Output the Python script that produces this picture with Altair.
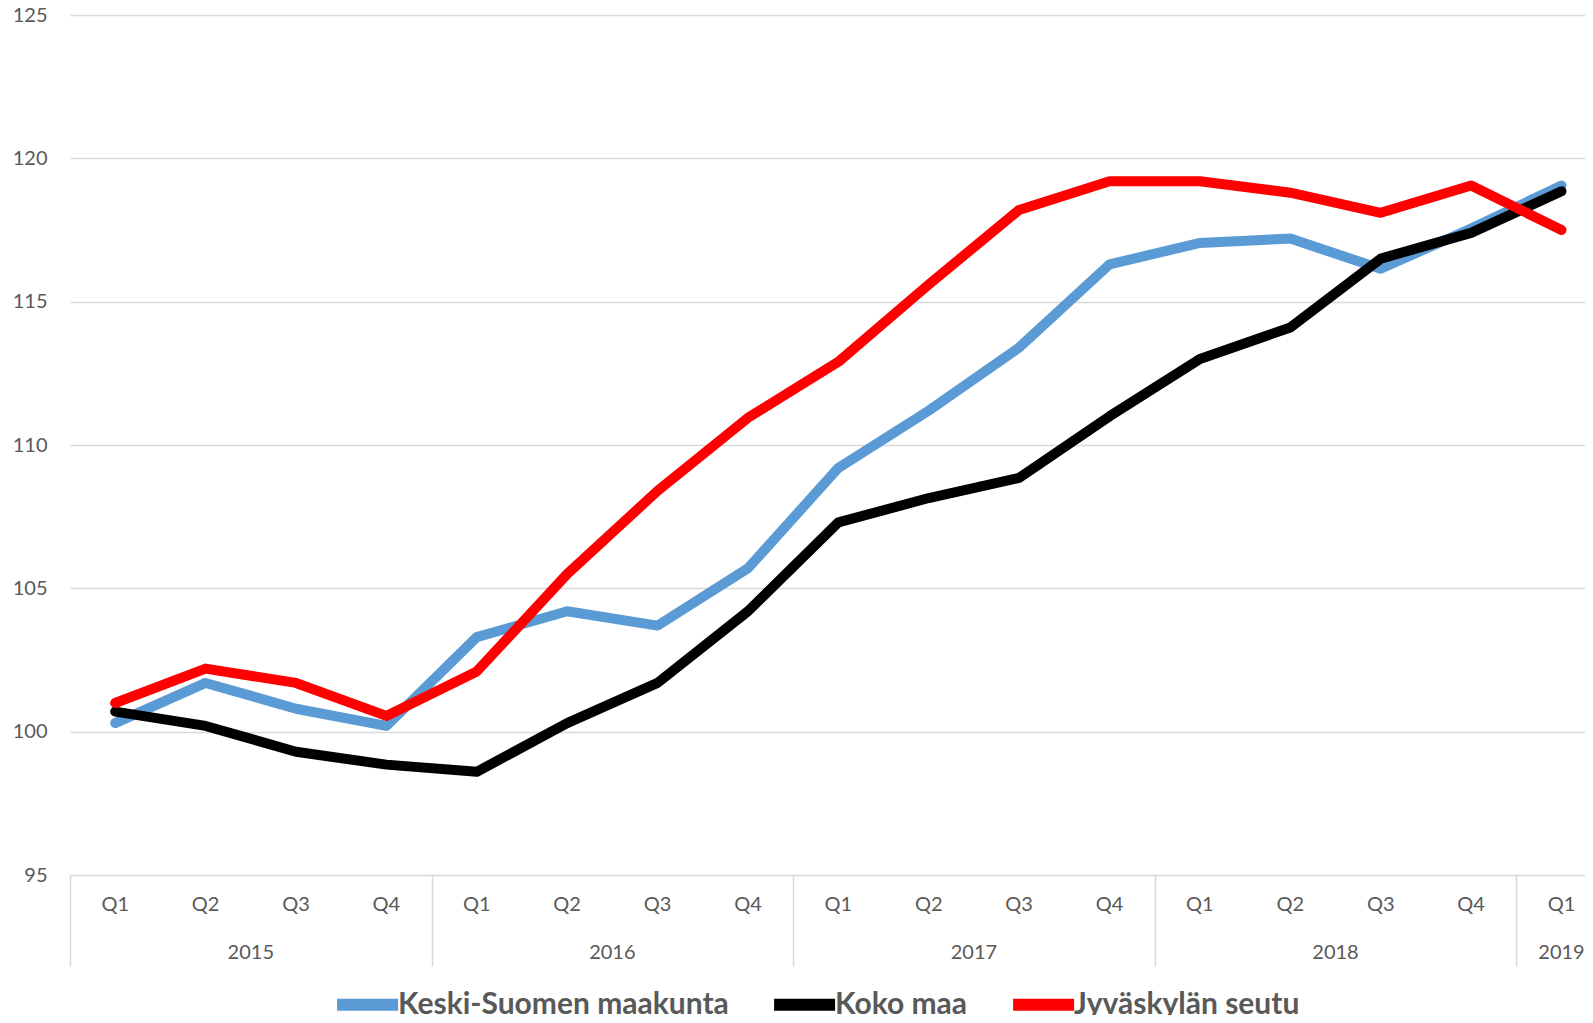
import altair as alt
import pandas as pd

# Category labels
quarters = ["Q1", "Q2", "Q3", "Q4"] * 4 + ["Q1"]
years = ["2015"] * 4 + ["2016"] * 4 + ["2017"] * 4 + ["2018"] * 4 + ["2019"]

series_names = ["Keski-Suomen maakunta", "Koko maa", "Jyväskylän seutu"]
keski = [100.3, 101.7, 100.8, 100.2, 103.3, 104.2, 103.7, 105.7, 109.2, 111.2,
         113.4, 116.3, 117.05, 117.2, 116.15, 117.55, 119.05]
koko = [100.7, 100.2, 99.3, 98.85, 98.6, 100.3, 101.7, 104.2, 107.3, 108.15,
        108.85, 111.0, 113.0, 114.1, 116.5, 117.4, 118.85]
jkl = [101.0, 102.2, 101.7, 100.55, 102.1, 105.5, 108.4, 110.95, 112.9, 115.6,
       118.2, 119.2, 119.2, 118.8, 118.1, 119.05, 117.5]
colors = ["#5B9BD5", "#000000", "#FF0000"]
y_ticks = [95, 100, 105, 110, 115, 120, 125]

FONT = "Lato"
TXT = "#595959"
GRID = "#D9D9D9"

rows = []
for name, vals in zip(series_names, [keski, koko, jkl]):
    for i, v in enumerate(vals):
        rows.append({"idx": i, "series": name, "value": v})
df = pd.DataFrame(rows)

qdf = pd.DataFrame({"idx": list(range(len(quarters))), "label": quarters, "year": years})
ydf = qdf.groupby("year", as_index=False)["idx"].mean()
sep_positions = [float(v) - 0.5 for v in qdf.groupby("year")["idx"].min().tolist()]

xscale = alt.Scale(domain=[-0.5, 16.26], nice=False, zero=False)
yscale = alt.Scale(domain=[95, 125], nice=False, zero=False)

PH = 860

base = alt.Chart(df).mark_line(strokeWidth=10, strokeCap="round", strokeJoin="round").encode(
    x=alt.X("idx:Q", scale=xscale,
            axis=alt.Axis(values=sep_positions, labels=False, ticks=True, tickSize=91,
                          tickColor=GRID, tickWidth=1.5, domain=False, grid=False, title=None)),
    y=alt.Y("value:Q", scale=yscale,
            axis=alt.Axis(values=y_ticks, title=None, grid=True, gridColor=GRID, gridWidth=1.5,
                          domain=False, ticks=False, labelFontSize=20, labelColor=TXT,
                          labelPadding=23, labelFont=FONT)),
    color=alt.Color("series:N", scale=alt.Scale(domain=series_names, range=colors),
                    legend=alt.Legend(title=None, orient="none", legendX=255, legendY=953,
                                      direction="horizontal", symbolType="M-0.8,0H1.2",
                                      symbolSize=3721, symbolStrokeWidth=12,
                                      labelFontSize=30, labelFont=FONT, labelFontWeight="bold",
                                      labelColor=TXT, labelOffset=0, columnPadding=21,
                                      padding=0, labelLimit=600)),
)
lines = [base.transform_filter(alt.datum.series == s) for s in series_names]

qlabels = alt.Chart(qdf).mark_text(fontSize=20, color=TXT, font=FONT, baseline="middle").encode(
    x=alt.X("idx:Q", scale=xscale),
    y=alt.value(PH + 30),
    text="label:N",
)
ylabels = alt.Chart(ydf).mark_text(fontSize=20, color=TXT, font=FONT, baseline="middle").encode(
    x=alt.X("idx:Q", scale=xscale),
    y=alt.value(PH + 78),
    text="year:N",
)

chart = alt.layer(*lines, qlabels, ylabels).properties(
    width=1515, height=PH,
    autosize=alt.AutoSizeParams(type="none"),
    padding={"left": 62, "top": 7, "right": 0, "bottom": 140},
).configure(background="white").configure_view(stroke=None, strokeWidth=0)

chart.save("out.html", embed_options={"renderer": "svg", "actions": False})
